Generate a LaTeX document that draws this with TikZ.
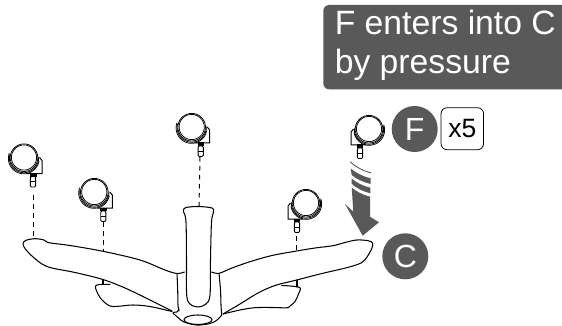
\documentclass[tikz,border=0pt]{standalone}
\usepackage{fontspec}
\usetikzlibrary{shapes.geometric}
\setmainfont{Liberation Sans}
\definecolor{tag}{HTML}{595959}
\tikzset{
  lnbase/.style={line width=1.05pt,black,line join=round,line cap=round},
  guide/.style={line width=1pt,black,dash pattern=on 4.5pt off 4.5pt},
  badge/.style={circle,fill=tag,text=white,minimum size=46pt,inner sep=0pt,font=\fontsize{32}{32}\selectfont},
  qtybox/.style={draw=black,line width=.8pt,rounded corners=6pt,minimum width=42.5pt,minimum height=42pt,inner sep=0pt,font=\fontsize{26.5}{26.5}\selectfont},
  caster/.pic={
    \foreach \r/\a/\b/\dx/\dy in {12.6/0/360/0/0,13.8/-30/360/0/0.2,14.6/-5/195/0/0.6,15.4/10/200/-0.2/0.9}{
      \draw[line width=.75pt,black] plot[smooth,samples=40,domain=\a:\b] ({\dx+\r*cos(\x)},{\dy+\r*sin(\x)});
    }
    \draw[line width=1pt,black,line join=miter] (15.5,0) -- (18,3) -- (18,16) -- (3,16);
    \fill[black] (6,15.5) rectangle (12.5,19);
    \draw[line width=.9pt,black,fill=white,rounded corners=1.2pt] (6.4,19) -- (6.4,29.5) -- (11.6,29.5) -- (11.6,19) -- cycle;
    \draw[line width=.7pt,black] (6.4,24) -- (11.6,24);
  }
}
\begin{document}
\begin{tikzpicture}[x=1pt,y=-1pt]
\useasboundingbox (0,0) rectangle (562,326);

% caption
\fill[tag] (562,5) -- (329,5) to[out=180,in=90] (323.3,11) -- (323.3,83.3) to[out=-90,in=180] (329,89.3) -- (562,89.3) -- cycle;
\node[anchor=base west,inner sep=0pt,text=white,font=\fontsize{33.7}{33.7}\selectfont] (cap1) at (334.6,34.3) {F enters into C};
\node[anchor=base west,inner sep=0pt,text=white,font=\fontsize{33.7}{33.7}\selectfont] (cap2) at (334.6,73.3) {by pressure};

% labels
\node[badge] (F) at (414.7,129) {F};
\node[badge] (C) at (405.3,256.3) {C};
\node[qtybox] (qty) at (462.3,128.7) {x5};

% arrow
\draw[tag,line width=.9pt] (350,161.7) .. controls (356,167) and (363,171) .. (371,172.8);
\fill[tag] (350.7,168.5) .. controls (356,173) and (363,176.5) .. (370.7,178.3) -- (370.7,184) .. controls (363,182) and (356,179) .. (351.7,175) -- cycle;
\fill[tag] (351.7,178.5) .. controls (356,182.5) and (363,186) .. (370.3,187.7) -- (370.3,193.3) .. controls (363,191.5) and (356,188) .. (351.7,183.8) -- cycle;
\fill[tag] (351.7,187.5) .. controls (356,191.5) and (363,195) .. (370,196.7) -- (370,216.7) -- (379,222.3) -- (362.7,235.7) -- (345,204) -- (353.3,211.7) -- cycle;

% base
\draw[lnbase,fill=white] plot[smooth,tension=.55] coordinates {(184,213) (186,222) (186.5,260) (186.7,295) (190,304) (198,307) (206,304) (210,295) (210.5,260) (211.5,222) (213.5,212) (212,208) (198,206.5) (186,207.5) (183.5,210) (184,213)};
\draw[lnbase] plot[smooth,tension=.55] coordinates {(184.5,272) (177,273.5) (165,270) (140,260) (103,251.3) (70,245.5) (49,242.7) (44,240) (35,238.7) (26,240.3) (23,243.5) (25,248.5) (32,256) (42,264) (52,268) (75,272.5) (103,279.5) (125,288) (150,300) (172,311)};
\draw[lnbase] plot[smooth,tension=.55] coordinates {(211.5,272) (219,273.3) (232,268) (250,261.7) (272,255.5) (296.7,251) (315,248) (333,245.7) (345,242.5) (356.7,240) (368,240.7) (372.5,243) (372,248) (367,257) (361,263) (346.7,267.7) (322,273.5) (296.7,280) (275,285.5) (258,293) (240,304) (223,314)};
\draw[lnbase] (103,280) -- (103,284.3);
\draw[lnbase] plot[smooth,tension=.55] coordinates {(110,284.3) (100,284.5) (95.5,286) (97,292) (102,300) (110,306) (118,306.3) (133,305) (150,306.5) (172,311.5)};
\draw[lnbase] (297,280) -- (297,287);
\draw[lnbase] plot[smooth,tension=.55] coordinates {(281.7,285.5) (290,286) (300,287.7) (298.5,294) (295,301.5) (290,306) (286.7,307.8) (272,307.5) (255,307.7) (240,310) (223,314)};
\draw[lnbase] plot[smooth,tension=.6] coordinates {(177,273.5) (177.7,290) (178,305) (179,311)};
\draw[lnbase] plot[smooth,tension=.6] coordinates {(219,273.3) (220.5,290) (221,305) (221.7,315)};
\draw[lnbase] plot[smooth,tension=.6] coordinates {(179,309) (177,312) (173,312.7) (178,317.5) (184,322) (196.7,325) (210,323.5) (217,320) (221.7,315)};
\node[draw=black,line width=1.05pt,ellipse,minimum width=28pt,minimum height=9.4pt,inner sep=0pt,fill=white] (hub) at (198,319.7) {};

% casters
\pic at (24,157.5) {caster};
\pic at (94.3,192) {caster};
\pic at (191.7,127) {caster};
\pic[xscale=-1] at (306,203) {caster};
\pic[xscale=-1] at (369,129) {caster};

% guides
\coordinate (a1) at (33,195); \coordinate (a2) at (33,236);
\coordinate (b1) at (103,222); \coordinate (b2) at (103,251);
\coordinate (c1) at (200,157); \coordinate (c2) at (199,206.5);
\coordinate (d1) at (296.7,236); \coordinate (d2) at (296.7,251);
\draw[guide] (a1) -- (a2);
\draw[guide] (b1) -- (b2);
\draw[guide] (c1) -- (c2);
\draw[guide] (d1) -- (d2);
\end{tikzpicture}
\end{document}
